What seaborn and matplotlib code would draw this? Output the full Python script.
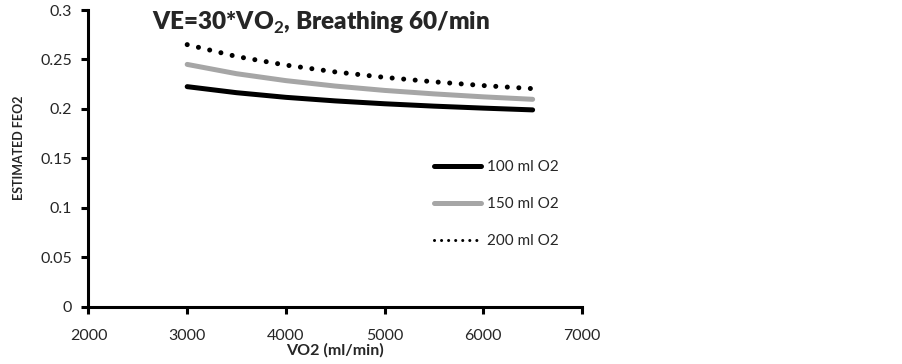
import pandas as pd
import matplotlib.pyplot as plt
import seaborn as sns

# values
vo2 = [3000, 3500, 4000, 4500, 5000, 5500, 6000, 6500]
feo2_100 = [0.2225, 0.2164, 0.2117, 0.2081, 0.2052, 0.2028, 0.2008, 0.1990]
feo2_150 = [0.2450, 0.2356, 0.2286, 0.2231, 0.2187, 0.2152, 0.2122, 0.2097]
feo2_200 = [0.2650, 0.2530, 0.2443, 0.2374, 0.2319, 0.2274, 0.2236, 0.2205]
labels = ['100 ml O2', '150 ml O2', '200 ml O2']

sns.set_style("ticks")
plt.rcParams['font.family'] = ['Lato', 'DejaVu Sans']
plt.rcParams['mathtext.fontset'] = 'custom'
plt.rcParams['mathtext.rm'] = 'Lato'
plt.rcParams['mathtext.bf'] = 'Lato:bold'

df = pd.DataFrame({'VO2': vo2 * 3,
                   'FEO2': feo2_100 + feo2_150 + feo2_200,
                   'series': [labels[0]] * 8 + [labels[1]] * 8 + [labels[2]] * 8})

fig = plt.figure(figsize=(9.03, 3.64), dpi=100)
ax = fig.add_axes([0.098, 0.1574, 0.5465, 0.8151])

styles = {labels[0]: ('black', '-'),
          labels[1]: ('#a6a6a6', '-'),
          labels[2]: ('black', (0, (0.01, 2.3)))}
for name in labels:
    col, ls = styles[name]
    sub = df[df['series'] == name]
    sns.lineplot(data=sub, x='VO2', y='FEO2', ax=ax, color=col, linestyle=ls,
                 linewidth=3.6, label=name, solid_capstyle='round',
                 dash_capstyle='round')

ax.set_xlim(2000, 7000)
ax.set_ylim(0, 0.3)
ax.set_xticks([2000, 3000, 4000, 5000, 6000, 7000])
ax.set_yticks([0, 0.05, 0.1, 0.15, 0.2, 0.25, 0.3])
ax.set_yticklabels(['0', '0.05', '0.1', '0.15', '0.2', '0.25', '0.3'])
ax.tick_params(axis='both', labelsize=11.5, direction='out', length=5, width=2.2,
               color='black', bottom=True, left=True, pad=7)
ax.tick_params(axis='x', pad=11)
sns.despine(ax=ax)
for s in ['left', 'bottom']:
    ax.spines[s].set_color('black')
    ax.spines[s].set_linewidth(2.2)

ax.set_xlabel('VO2 (ml/min)', fontsize=11.5, fontweight='bold', labelpad=0)
ax.set_ylabel('ESTIMATED FEO2', fontsize=9, fontweight='bold')
ax.yaxis.set_label_coords(-0.129, 0.535)

leg = ax.legend(loc='upper left', bbox_to_anchor=(0.70, 0.493), frameon=False,
                fontsize=11, handlelength=3.1, labelspacing=1.5,
                handletextpad=0.4, borderaxespad=0, borderpad=0)
leg.get_lines()[2].set_linewidth(2.2)

fig.text(152 / 903, 1 - 30 / 364, r'VE=30*VO$_\mathbf{2}$, Breathing 60/min', ha='left',
         va='baseline', fontsize=17.5, fontweight='heavy')

fig.savefig('out.png', dpi=100)
